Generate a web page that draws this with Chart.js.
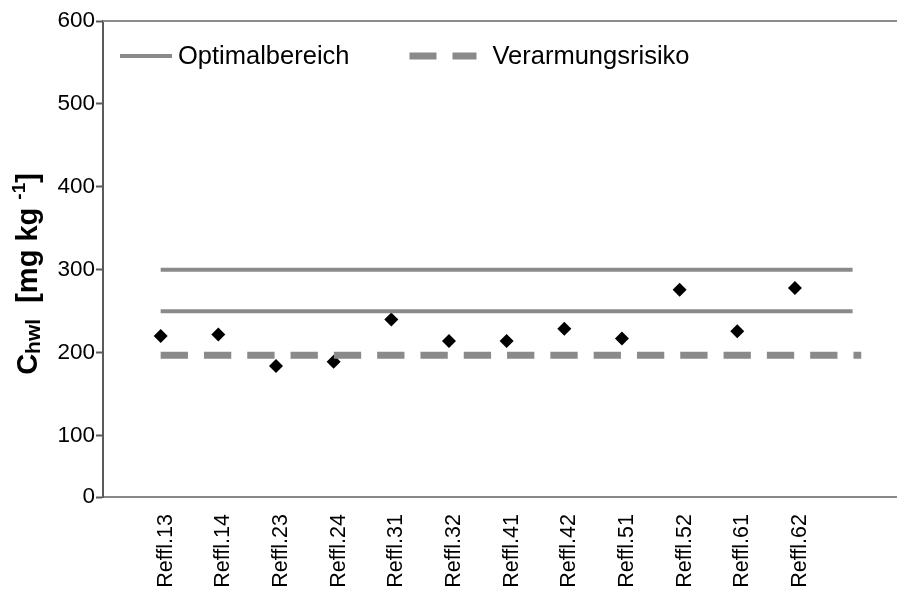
<!DOCTYPE html>
<html>
<head>
<meta charset="utf-8">
<script src="https://cdn.jsdelivr.net/npm/chart.js@4.4.1/dist/chart.umd.min.js"></script>
<style>
    html, body { margin: 0; padding: 0; background: #fff; }
    canvas { display: block; }
</style>
</head>
<body>
<canvas id="chwlChart" width="897" height="599"></canvas>
<script>
// data
var categories = ['Reffl.13', 'Reffl.14', 'Reffl.23', 'Reffl.24', 'Reffl.31', 'Reffl.32',
                  'Reffl.41', 'Reffl.42', 'Reffl.51', 'Reffl.52', 'Reffl.61', 'Reffl.62'];
var chwlValues = [220, 222, 184, 189, 240, 214, 214, 229, 217, 276, 226, 278];
var optimalUpper = 300;
var optimalLower = 250;
var depletionRisk = 197;
var yTickValues = [100, 200, 300, 400, 500, 600];
var yAxisMin = 26;   // bottom of the frame, labelled "0" in the original
var yAxisMax = 600;

var fontFamily = '"Liberation Sans", Arial, sans-serif';
var lineGray = '#8a8a8a';

document.addEventListener("DOMContentLoaded", function () {
    var ctx = document.getElementById('chwlChart').getContext('2d');

    function hLine(value, end) {
        return [{ x: 0, y: value }, { x: end, y: value }];
    }

    var points = chwlValues.map(function (v, i) { return { x: i, y: v }; });

    // top border of the plot frame
    var frameTop = {
        id: 'frameTop',
        beforeDatasetsDraw: function (chart) {
            var c = chart.ctx, a = chart.chartArea;
            c.save();
            c.strokeStyle = '#8c8c8c';
            c.lineWidth = 2;
            c.beginPath();
            c.moveTo(a.left, a.top);
            c.lineTo(a.right, a.top);
            c.stroke();
            c.restore();
        }
    };

    // legend drawn inside the plot area
    var insideLegend = {
        id: 'insideLegend',
        afterDatasetsDraw: function (chart, args, opts) {
            var c = chart.ctx, a = chart.chartArea;
            var x = a.left + opts.left;
            var y = a.top + opts.top;
            c.save();
            c.font = opts.font;
            c.textBaseline = 'middle';
            chart.data.datasets.forEach(function (ds) {
                if (!ds.legendSample) return;
                c.beginPath();
                c.lineWidth = ds.borderWidth;
                c.strokeStyle = ds.borderColor;
                c.setLineDash(ds.legendDash || []);
                c.moveTo(x, y);
                c.lineTo(x + ds.legendSample, y);
                c.stroke();
                c.setLineDash([]);
                x += ds.legendSample + ds.legendGap;
                c.fillStyle = '#000';
                c.fillText(ds.label, x, y + 1);
                x += c.measureText(ds.label).width + opts.itemSpacing;
            });
            c.restore();
        }
    };

    // rotated y title with subscript / superscript
    var yTitle = {
        id: 'yTitle',
        afterDraw: function (chart, args, opts) {
            var c = chart.ctx;
            var total = 0;
            c.save();
            c.translate(opts.x, opts.y);
            c.rotate(-Math.PI / 2);
            c.fillStyle = '#000';
            opts.parts.forEach(function (p) {
                c.font = 'bold ' + p.size + 'px ' + fontFamily;
                p.w = c.measureText(p.text).width;
                total += p.w;
            });
            var x = -total / 2;
            opts.parts.forEach(function (p) {
                c.font = 'bold ' + p.size + 'px ' + fontFamily;
                c.fillText(p.text, x, p.shift);
                x += p.w;
            });
            c.restore();
        }
    };

    new Chart(ctx, {
        type: 'scatter',
        data: {
            datasets: [
                {
                    label: 'Optimalbereich',
                    data: hLine(optimalUpper, categories.length),
                    showLine: true,
                    borderColor: lineGray,
                    borderWidth: 4,
                    pointRadius: 0,
                    order: 1,
                    legendSample: 52,
                    legendGap: 6
                },
                {
                    label: 'Optimalbereich',
                    data: hLine(optimalLower, categories.length),
                    showLine: true,
                    borderColor: lineGray,
                    borderWidth: 4,
                    pointRadius: 0,
                    order: 1
                },
                {
                    label: 'Verarmungsrisiko',
                    data: hLine(depletionRisk, categories.length + 0.15),
                    showLine: true,
                    borderColor: lineGray,
                    borderWidth: 7,
                    borderDash: [27.3, 16],
                    pointRadius: 0,
                    order: 0,
                    legendSample: 67,
                    legendGap: 16,
                    legendDash: [27, 16]
                },
                {
                    label: 'Chwl',
                    data: points,
                    pointStyle: 'rectRot',
                    pointRadius: 7,
                    pointHoverRadius: 7,
                    backgroundColor: '#000',
                    borderColor: '#000',
                    borderWidth: 0,
                    order: 2
                }
            ]
        },
        options: {
            responsive: false,
            animation: false,
            layout: {
                autoPadding: false,
                padding: { left: 0, right: 0, top: 21, bottom: 0 }
            },
            scales: {
                x: {
                    type: 'linear',
                    min: -1.0,
                    max: 12.77,
                    afterBuildTicks: function (axis) {
                        axis.ticks = categories.map(function (c, i) { return { value: i }; });
                    },
                    afterFit: function (axis) { axis.height = 102; },
                    grid: { display: false, drawTicks: false },
                    border: { display: true, color: '#888', width: 2 },
                    ticks: {
                        autoSkip: false,
                        minRotation: 90,
                        maxRotation: 90,
                        padding: 17,
                        labelOffset: 5,
                        color: '#000',
                        font: { family: fontFamily, size: 21.5 },
                        callback: function (value) { return categories[value]; }
                    }
                },
                y: {
                    min: yAxisMin,
                    max: yAxisMax,
                    afterBuildTicks: function (axis) {
                        axis.ticks = [{ value: yAxisMin }].concat(yTickValues.map(function (v) { return { value: v }; }));
                    },
                    afterFit: function (axis) { axis.width = 103; },
                    grid: {
                        drawOnChartArea: false,
                        drawTicks: true,
                        tickLength: 7,
                        tickWidth: 2,
                        tickColor: '#5a5a5a'
                    },
                    border: { display: true, color: '#5a5a5a', width: 2 },
                    ticks: {
                        padding: 1,
                        color: '#000',
                        font: { family: fontFamily, size: 22.5 },
                        callback: function (value) {
                            return value === yAxisMin ? '0' : value;
                        }
                    }
                }
            },
            plugins: {
                legend: { display: false },
                tooltip: { enabled: false },
                insideLegend: {
                    left: 17,
                    top: 35,
                    itemSpacing: 60,
                    font: '25.5px ' + fontFamily
                },
                yTitle: {
                    x: 37,
                    y: 274,
                    parts: [
                        { text: 'C', size: 29, shift: 0 },
                        { text: 'hwl', size: 21, shift: 3 },
                        { text: '  [mg kg ', size: 29, shift: 0 },
                        { text: '-1', size: 19, shift: -12 },
                        { text: ']', size: 29, shift: 0 }
                    ]
                }
            }
        },
        plugins: [frameTop, insideLegend, yTitle]
    });
});
</script>
</body>
</html>
